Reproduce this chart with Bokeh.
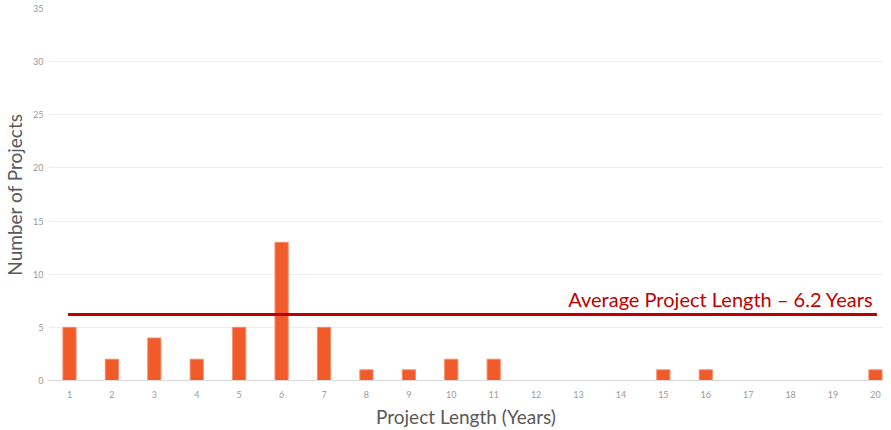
from bokeh.plotting import figure
from bokeh.models import ColumnDataSource, FixedTicker, Range1d, Label
from bokeh.embed import file_html
from bokeh.resources import INLINE

years = list(range(1, 21))
counts = [5, 2, 4, 2, 5, 13, 5, 1, 1, 2, 2, 0, 0, 0, 1, 1, 0, 0, 0, 1]
average = 6.2
avg_label = "Average Project Length \u2013 6.2 Years"
y_ticks = [0, 5, 10, 15, 20, 25, 30, 35]

src = ColumnDataSource(dict(x=years, top=counts))

p = figure(frame_width=835, frame_height=372, output_backend="svg", toolbar_location=None,
           x_range=Range1d(0.505, 20.19), y_range=Range1d(0, 35),
           min_border_left=0, min_border_right=0, min_border_top=8, min_border_bottom=0)
p.outline_line_color = None
p.background_fill_color = "white"

p.vbar(x="x", top="top", width=0.31, source=src, fill_color="#F15A29",
       line_color="#F6896A", line_width=1)

p.line(x=[years[0], years[-1]], y=[average, average], line_color="#C00000", line_width=3,
       line_cap="square")

lab = Label(x=years[-1] - 0.05, y=average, y_offset=4, text=avg_label,
            text_align="right", text_baseline="bottom", text_color="#C00000",
            text_font="Lato", text_font_size="20px")
p.add_layout(lab)

p.xaxis.ticker = FixedTicker(ticks=years)
p.yaxis.ticker = FixedTicker(ticks=y_ticks)
p.xgrid.grid_line_color = None
p.ygrid.grid_line_color = "#EDEDED"
p.ygrid.grid_line_width = 1

for ax in (p.xaxis, p.yaxis):
    ax.major_tick_line_color = None
    ax.minor_tick_line_color = None
    ax.major_tick_out = 0
    ax.major_tick_in = 0
    ax.major_label_text_color = "#9A9A9A"
    ax.major_label_text_font = "Lato"
    ax.major_label_text_font_size = "9px"
    ax.axis_label_text_color = "#595959"
    ax.axis_label_text_font = "Lato"
    ax.axis_label_text_font_size = "19px"
    ax.axis_label_text_font_style = "normal"
p.yaxis.axis_line_color = None
p.xaxis.axis_line_color = "#D9D9D9"
p.xaxis.major_label_standoff = 10
p.yaxis.major_label_standoff = 5
p.xaxis.axis_label = "Project Length (Years)"
p.yaxis.axis_label = "Number of Projects"
p.xaxis.axis_label_standoff = 4
p.yaxis.axis_label_standoff = 4

open("out.html", "w").write(file_html(p, INLINE))
